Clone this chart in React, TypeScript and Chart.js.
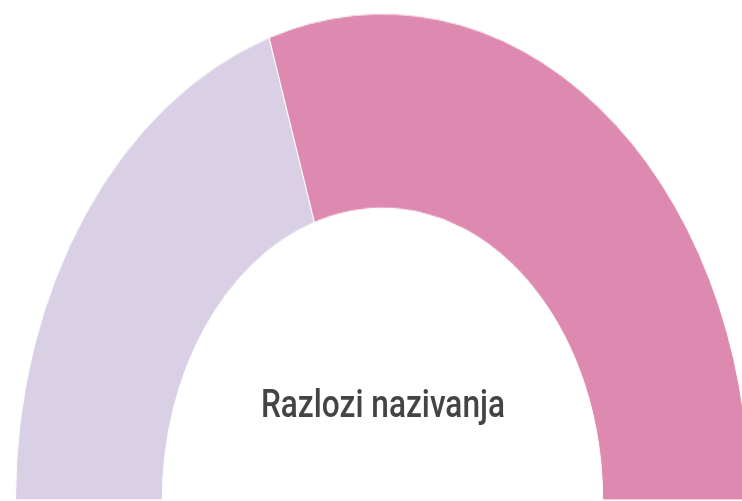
import React, { useEffect, useRef } from "react";
import { Chart, registerables } from "chart.js";

Chart.register(...registerables);

const categories = ["Razlog 1", "Razlog 2"];
const values = [40, 60];
const colors = ["#dad0e6", "#de89b0"];
const centerLabel = "Razlozi nazivanja";

export default function App() {
  const ref = useRef<HTMLCanvasElement | null>(null);

  useEffect(() => {
    if (!ref.current) return;
    const chart = new Chart(ref.current, {
      type: "doughnut",
      data: {
        labels: categories,
        datasets: [
          {
            data: values,
            backgroundColor: colors,
            borderColor: "#ffffff",
            borderWidth: 1,
          },
        ],
      },
      options: {
        responsive: false,
        animation: false,
        rotation: -90,
        circumference: 180,
        cutout: "60%",
        layout: { padding: 0 },
        plugins: {
          legend: { display: false },
          tooltip: { enabled: true },
        },
      },
    });
    return () => chart.destroy();
  }, []);

  return (
    <div
      style={{
        position: "fixed",
        left: 0,
        top: 0,
        width: 742,
        height: 501,
        overflow: "hidden",
        background: "#ffffff",
      }}
    >
      <div
        style={{
          position: "absolute",
          left: 15,
          top: 12.7,
          width: 735,
          height: 368,
          transform: "scaleY(1.325)",
          transformOrigin: "0 0",
        }}
      >
        <canvas ref={ref} width={735} height={368} style={{ display: "block" }} />
        <div
          style={{
            position: "absolute",
            left: 0,
            top: 280.9,
            width: 735,
            textAlign: "center",
            fontFamily: "Roboto, sans-serif",
            fontWeight: 500,
            fontSize: 29,
            lineHeight: "29px",
            color: "#444444",
            whiteSpace: "nowrap",
          }}
        >
          <span style={{ display: "inline-block", transform: "scaleX(1.09)", transformOrigin: "50% 50%" }}>
            {centerLabel}
          </span>
        </div>
      </div>
    </div>
  );
}
